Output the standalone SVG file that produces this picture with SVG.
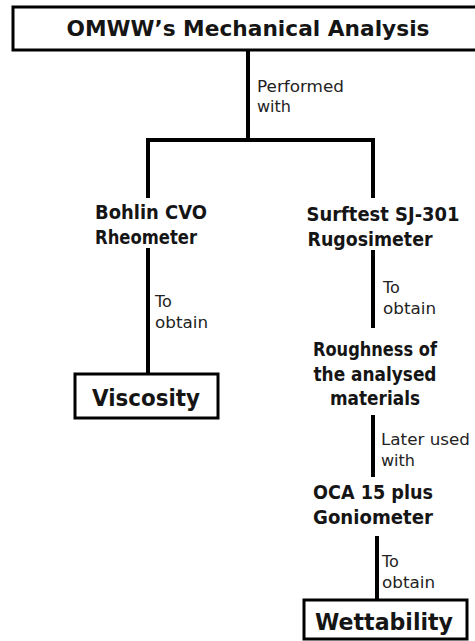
<svg xmlns="http://www.w3.org/2000/svg" width="475" height="641" viewBox="0 0 475 641">
<style>
.box{fill:#fff;stroke:#000;stroke-width:3}
.con{fill:none;stroke:#000;stroke-width:4;stroke-linejoin:miter}
.t{font-family:"DejaVu Sans","Liberation Sans",sans-serif;font-weight:bold;fill:#151515;text-anchor:middle}
.n{font-size:19px}
.lbl{font-family:"DejaVu Sans","Liberation Sans",sans-serif;font-size:16px;fill:#222}
</style>
<rect width="475" height="641" fill="#fff"/>
<g id="connectors">
<path class="con" d="M248,50 V140"/>
<path class="con" d="M148,198 V140 H373 V198"/>
<path class="con" d="M148,248 V374"/>
<path class="con" d="M373,250 V328"/>
<path class="con" d="M373,415 V477"/>
<path class="con" d="M377,536 V600"/>
<text class="lbl" x="257" y="92" textLength="87" lengthAdjust="spacingAndGlyphs">Performed</text>
<text class="lbl" x="257" y="112">with</text>
<text class="lbl" x="155" y="307">To</text>
<text class="lbl" x="155" y="328" textLength="53" lengthAdjust="spacingAndGlyphs">obtain</text>
<text class="lbl" x="383" y="293">To</text>
<text class="lbl" x="383" y="314" textLength="53" lengthAdjust="spacingAndGlyphs">obtain</text>
<text class="lbl" x="381" y="445" textLength="89" lengthAdjust="spacingAndGlyphs">Later used</text>
<text class="lbl" x="381" y="466">with</text>
<text class="lbl" x="382" y="567">To</text>
<text class="lbl" x="382" y="588" textLength="53" lengthAdjust="spacingAndGlyphs">obtain</text>
</g>
<g id="title">
<rect class="box" x="13" y="7" width="464" height="43"/>
<text class="t" x="248" y="36" font-size="22" textLength="363" lengthAdjust="spacingAndGlyphs">OMWW’s Mechanical Analysis</text>
</g>
<g id="bohlin">
<text class="t n" x="151" y="219" textLength="112" lengthAdjust="spacingAndGlyphs">Bohlin CVO</text>
<text class="t n" x="146" y="244" textLength="102" lengthAdjust="spacingAndGlyphs">Rheometer</text>
</g>
<g id="surftest">
<text class="t n" x="383" y="221" textLength="153" lengthAdjust="spacingAndGlyphs">Surftest SJ-301</text>
<text class="t n" x="370" y="246" textLength="125" lengthAdjust="spacingAndGlyphs">Rugosimeter</text>
</g>
<g id="viscosity">
<rect class="box" x="75" y="374" width="143" height="44"/>
<text class="t" x="146" y="406" font-size="23" textLength="108" lengthAdjust="spacingAndGlyphs">Viscosity</text>
</g>
<g id="roughness">
<text class="t n" x="375" y="356" textLength="124" lengthAdjust="spacingAndGlyphs">Roughness of</text>
<text class="t n" x="375" y="381" textLength="123" lengthAdjust="spacingAndGlyphs">the analysed</text>
<text class="t n" x="375" y="405" textLength="90" lengthAdjust="spacingAndGlyphs">materials</text>
</g>
<g id="oca">
<text class="t n" x="373" y="499" textLength="120" lengthAdjust="spacingAndGlyphs">OCA 15 plus</text>
<text class="t n" x="373" y="524" textLength="120" lengthAdjust="spacingAndGlyphs">Goniometer</text>
</g>
<g id="wettability">
<rect class="box" x="304" y="600" width="163" height="39"/>
<text class="t" x="384" y="630" font-size="23" textLength="138" lengthAdjust="spacingAndGlyphs">Wettability</text>
</g>
</svg>
